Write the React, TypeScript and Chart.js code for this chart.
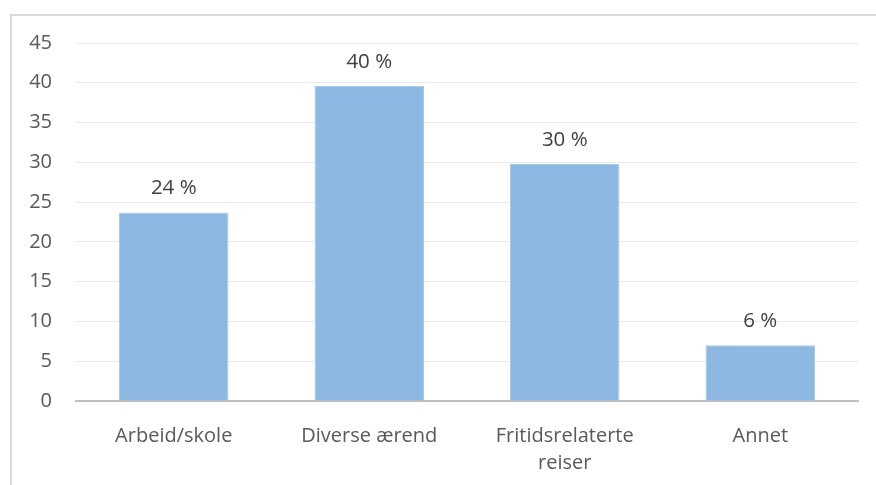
import React, { useEffect, useRef } from "react";
import { Chart, registerables } from "chart.js";

Chart.register(...registerables);

const categories: (string | string[])[] = ["Arbeid/skole", "Diverse ærend", ["Fritidsrelaterte", "reiser"], "Annet"];
const values: number[] = [23.7, 39.6, 29.8, 7.0];
const valueLabels: string[] = ["24 %", "40 %", "30 %", "6 %"];
const yTicks: number[] = [0, 5, 10, 15, 20, 25, 30, 35, 40, 45];

const FONT = "'Open Sans', sans-serif";

const labelPlugin = {
  id: "valueLabels",
  afterDatasetsDraw(chart: any) {
    const ctx = chart.ctx;
    const meta = chart.getDatasetMeta(0);
    ctx.save();
    ctx.font = `20.5px ${FONT}`;
    ctx.fillStyle = "#404040";
    ctx.textAlign = "center";
    ctx.textBaseline = "alphabetic";
    meta.data.forEach((bar: any, i: number) => {
      ctx.fillText(valueLabels[i], bar.x, bar.y - 18);
    });
    ctx.restore();
  },
};

export default function App() {
  const ref = useRef<HTMLCanvasElement>(null);
  useEffect(() => {
    document.body.style.margin = "0";
    const chart = new Chart(ref.current!, {
      type: "bar",
      data: {
        labels: categories,
        datasets: [
          {
            data: values,
            backgroundColor: "#8DB8E2",
            borderColor: "#A9C9EA",
            borderWidth: 1,
            barPercentage: 0.56,
            categoryPercentage: 1,
          },
        ],
      },
      options: {
        animation: false,
        responsive: false,
        maintainAspectRatio: false,
        layout: { padding: { left: 0, top: 43, right: 18, bottom: 0 } },
        plugins: { legend: { display: false }, tooltip: { enabled: false } },
        scales: {
          x: {
            grid: { display: false, drawTicks: false },
            border: { display: true, color: "#BFBFBF", width: 2 },
            ticks: { color: "#595959", font: { family: FONT, size: 20, lineHeight: 1.35 }, padding: 22, maxRotation: 0, autoSkip: false },
            afterFit: (s: any) => { s.height = 84; },
          },
          y: {
            min: 0,
            max: 45,
            afterBuildTicks: (s: any) => { s.ticks = yTicks.map((v) => ({ value: v })); },
            grid: { color: "#EAEAEA", lineWidth: 1, drawTicks: false },
            border: { display: false },
            ticks: { color: "#595959", font: { family: FONT, size: 20 }, padding: 24 },
            afterFit: (s: any) => { s.width = 76; },
          },
        },
      },
      plugins: [labelPlugin],
    });
    return () => chart.destroy();
  }, []);
  return (
    <div style={{ position: "fixed", left: 0, top: 0, width: 876, height: 485, overflow: "hidden", background: "#fff" }}>
      <div style={{ position: "absolute", left: 10, top: 14, width: 900, height: 520, border: "2px solid #D9D9D9", boxSizing: "border-box" }} />
      <canvas ref={ref} width={876} height={485} style={{ position: "absolute", left: 0, top: 0 }} />
    </div>
  );
}
